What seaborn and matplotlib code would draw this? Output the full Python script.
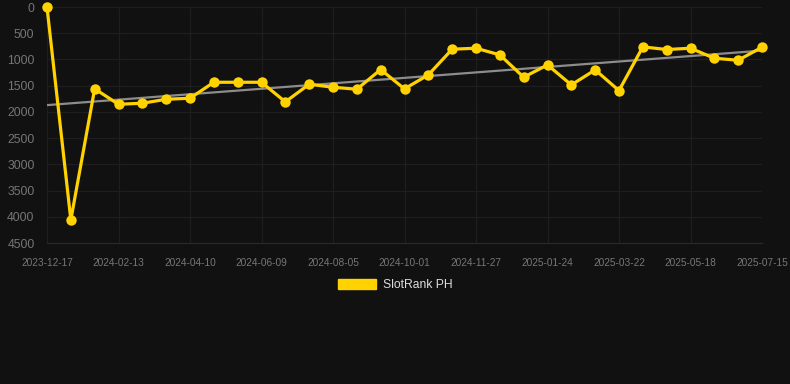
import numpy as np
import pandas as pd
import matplotlib
matplotlib.use("Agg")
import matplotlib.pyplot as plt
from matplotlib.patches import Patch
import seaborn as sns

# data (rank, lower is better)
dates = [
    "2023-12-17", "2024-01-06", "2024-01-25", "2024-02-13", "2024-03-04", "2024-03-22",
    "2024-04-10", "2024-04-30", "2024-05-20", "2024-06-09", "2024-06-28", "2024-07-17",
    "2024-08-05", "2024-08-24", "2024-09-12", "2024-10-01", "2024-10-20", "2024-11-08",
    "2024-11-27", "2024-12-16", "2025-01-05", "2025-01-24", "2025-02-12", "2025-03-03",
    "2025-03-22", "2025-04-10", "2025-04-29", "2025-05-18", "2025-06-06", "2025-06-25",
    "2025-07-15",
]
ranks = [
    5, 4060, 1560, 1855, 1835, 1759, 1740, 1435, 1435, 1435, 1809, 1473, 1530, 1568,
    1193, 1561, 1294, 805, 786, 913, 1339, 1104, 1485, 1199, 1594, 760, 811, 786,
    977, 1015, 767,
]
y_ticks = [0, 500, 1000, 1500, 2000, 2500, 3000, 3500, 4000, 4500]
series_name = "SlotRank PH"

BG = "#111111"
GRID = "#1e1e1e"
GOLD = "#FFD200"
TICK_TXT = "#767676"

# points are evenly spaced on the axis, labelled with every third date
df = pd.DataFrame({"date": dates, "rank": ranks})
df["pos"] = np.arange(len(df))

sns.set_style("dark")
plt.rcParams["font.family"] = ["Liberation Sans", "DejaVu Sans"]

fig = plt.figure(figsize=(7.9, 3.84), dpi=100, facecolor=BG)
ax = fig.add_axes([47 / 790, 1 - 243 / 384, (762 - 47) / 790, (243 - 7) / 384])
ax.set_facecolor(BG)

# trend line (least squares)
k, b = np.polyfit(df["pos"], df["rank"], 1)
ax.plot(df["pos"], k * df["pos"] + b, color="#8c8c8c", lw=1.6, zorder=2)

sns.lineplot(data=df, x="pos", y="rank", ax=ax, color=GOLD, lw=2.3,
             marker="o", markersize=7.5, markeredgewidth=0, zorder=3, clip_on=False)

ax.set_xlim(df["pos"].iloc[0], df["pos"].iloc[-1])
ax.set_ylim(4500, 0)
ax.set_yticks(y_ticks)
ax.set_yticklabels([str(v) for v in y_ticks], fontsize=8.8, color=TICK_TXT)
ax.set_xticks(df["pos"][::3])
ax.set_xticklabels(df["date"][::3], fontsize=7.3, color=TICK_TXT)
ax.tick_params(axis="x", length=5, color=GRID, pad=6)
ax.tick_params(axis="y", length=0, pad=9)
ax.grid(True, color=GRID, lw=0.9)
ax.set_xlabel("")
ax.set_ylabel("")
for side in ["top", "right", "left"]:
    ax.spines[side].set_visible(False)
ax.spines["bottom"].set_color("#2a2a2a")

fig.legend(handles=[Patch(facecolor=GOLD, edgecolor=GOLD, label=series_name)],
           loc="center", bbox_to_anchor=(0.5, 1 - 285 / 384), frameon=False,
           fontsize=8.7, labelcolor="#dddddd", handlelength=3.2, handleheight=0.95,
           handletextpad=0.55)

fig.savefig("out.png", dpi=100, facecolor=BG)
